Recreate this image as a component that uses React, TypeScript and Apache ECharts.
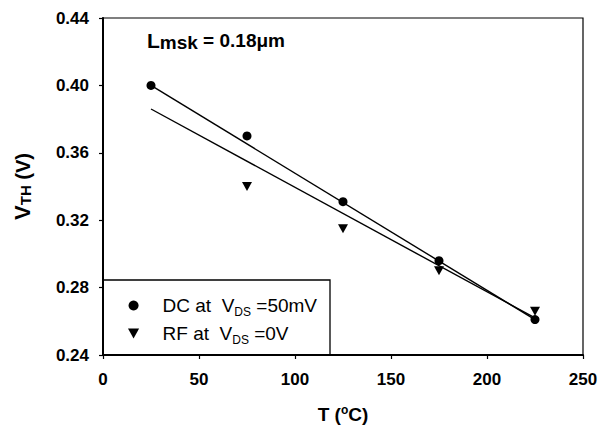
import React, { useEffect, useRef } from "react";
import * as echarts from "echarts";

const T_DC = [25, 75, 125, 175, 225];
const VTH_DC = [0.4, 0.37, 0.331, 0.296, 0.261];
const T_RF = [75, 125, 175, 225];
const VTH_RF = [0.34, 0.315, 0.29, 0.266];
const FIT_T = [25, 225];
const FIT_DC = [0.4, 0.261];
const FIT_RF = [0.386, 0.262];
const X_MIN = 0, X_MAX = 250, X_STEP = 50;
const Y_MIN = 0.24, Y_MAX = 0.44, Y_STEP = 0.04;
const NAME_DC = "DC at  V_DS =50mV";
const NAME_RF = "RF at  V_DS =0V";

const FONT = 'Arial, "Liberation Sans", sans-serif';
const TRI = "path://M0,0L10,0L5,9Z";

const zip = (xs: number[], ys: number[]) => xs.map((x, i) => [x, ys[i]]);

export default function App() {
  const ref = useRef<HTMLDivElement>(null);
  useEffect(() => {
    if (!ref.current) return;
    const chart = echarts.init(ref.current, undefined, { renderer: "svg" });
    chart.setOption({
      animation: false,
      backgroundColor: "#fff",
      textStyle: { fontFamily: FONT },
      title: {
        left: 142,
        top: 25,
        text: "{l|L}{m|msk}{r| = 0.18μm}",
        textStyle: {
          rich: {
            l: { fontSize: 21, fontWeight: "bold", color: "#000", fontFamily: FONT, verticalAlign: "top", lineHeight: 21 },
            m: { fontSize: 19, fontWeight: "bold", color: "#000", fontFamily: FONT, verticalAlign: "top", lineHeight: 19, padding: [3, 0, 0, 0] },
            r: { fontSize: 19, fontWeight: "bold", color: "#000", fontFamily: FONT, verticalAlign: "top", lineHeight: 19, padding: [1, 0, 0, 0] },
          },
        },
      },
      grid: {
        left: 103,
        right: 29,
        top: 18,
        bottom: 74,
        show: true,
        borderColor: "#000",
        borderWidth: 1.2,
        backgroundColor: "transparent",
      },
      legend: {
        orient: "vertical",
        left: 123,
        top: 291,
        itemWidth: 14,
        itemHeight: 10,
        itemGap: 6,
        selectedMode: false,
        itemStyle: { opacity: 1 },
        data: [
          { name: NAME_DC, icon: "circle" },
          { name: NAME_RF, icon: TRI },
        ],
        formatter: (name: string) => {
          const [a, b] = name.split("_");
          const sub = b.slice(0, 2);
          const rest = b.slice(2);
          return `{n|${a}}{s|${sub}}{n|${rest}}`;
        },
        textStyle: {
          padding: [0, 0, 0, 17],
          rich: {
            n: { fontSize: 19, color: "#000", fontFamily: FONT, verticalAlign: "top", lineHeight: 19 },
            s: { fontSize: 12, color: "#000", fontFamily: FONT, verticalAlign: "top", lineHeight: 12, padding: [10, 0, 0, 0] },
          },
        },
      },
      graphic: [
        {
          type: "rect",
          shape: { x: 103, y: 280, width: 227, height: 75 },
          style: { fill: "none", stroke: "#000", lineWidth: 1.3 },
          z: 10,
        },
      ],
      xAxis: {
        type: "value",
        min: X_MIN,
        max: X_MAX,
        interval: X_STEP,
        name: "{a|T (}{o|o}{a|C)}",
        nameLocation: "middle",
        nameGap: 48,
        nameTextStyle: {
          rich: {
            a: { fontSize: 19, fontWeight: "bold", color: "#000", fontFamily: FONT, verticalAlign: "bottom", lineHeight: 21 },
            o: { fontSize: 12, fontWeight: "bold", color: "#000", fontFamily: FONT, verticalAlign: "bottom", lineHeight: 12, padding: [0, 0, 8, 0] },
          },
        },
        axisLine: { show: true, lineStyle: { color: "#000", width: 2 } },
        axisTick: { show: true, inside: false, length: 4, lineStyle: { color: "#000", width: 1.2 } },
        axisLabel: { fontSize: 17, fontWeight: "bold", color: "#000", margin: 16, fontFamily: FONT },
        splitLine: { show: false },
      },
      yAxis: {
        type: "value",
        min: Y_MIN,
        max: Y_MAX,
        interval: Y_STEP,
        name: "{v|V}{t|TH}{p| (V)}",
        nameLocation: "middle",
        nameGap: 70,
        nameTextStyle: {
          rich: {
            v: { fontSize: 22, fontWeight: "bold", color: "#000", fontFamily: FONT, verticalAlign: "bottom", lineHeight: 22 },
            t: { fontSize: 15, fontWeight: "bold", color: "#000", fontFamily: FONT, verticalAlign: "bottom", lineHeight: 17 },
            p: { fontSize: 20, fontWeight: "bold", color: "#000", fontFamily: FONT, verticalAlign: "bottom", lineHeight: 21 },
          },
        },
        axisLine: { show: true, lineStyle: { color: "#000", width: 2 } },
        axisTick: { show: true, inside: false, length: 4, lineStyle: { color: "#000", width: 1.2 } },
        axisLabel: {
          fontSize: 17,
          fontWeight: "bold",
          color: "#000",
          margin: 14,
          fontFamily: FONT,
          formatter: (v: number) => v.toFixed(2),
        },
        splitLine: { show: false },
      },
      series: [
        {
          name: "fitDC",
          type: "line",
          data: zip(FIT_T, FIT_DC),
          showSymbol: false,
          symbol: "none",
          lineStyle: { color: "#000", width: 1.4 },
          z: 2,
        },
        {
          name: "fitRF",
          type: "line",
          data: zip(FIT_T, FIT_RF),
          showSymbol: false,
          symbol: "none",
          lineStyle: { color: "#000", width: 1.4 },
          z: 2,
        },
        {
          name: NAME_DC,
          type: "scatter",
          data: zip(T_DC, VTH_DC),
          symbol: "circle",
          symbolSize: 9,
          itemStyle: { color: "#000", opacity: 1 },
          z: 3,
        },
        {
          name: NAME_RF,
          type: "scatter",
          data: zip(T_RF, VTH_RF),
          symbol: TRI,
          symbolSize: [10, 9],
          itemStyle: { color: "#000", opacity: 1 },
          z: 3,
        },
      ],
    });
    return () => chart.dispose();
  }, []);
  return (
    <div
      ref={ref}
      style={{ position: "absolute", left: 0, top: 0, width: 612, height: 429 }}
    />
  );
}
